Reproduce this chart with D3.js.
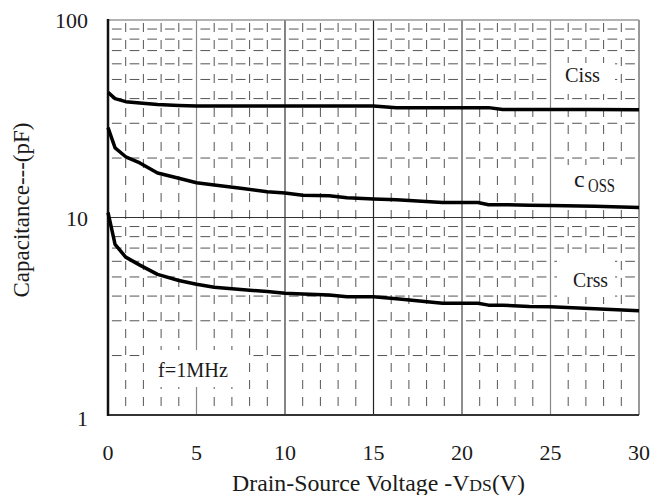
<!DOCTYPE html>
<html><head><meta charset="utf-8">
<script src="https://cdn.jsdelivr.net/npm/d3@7"></script>
<style>body{margin:0;background:#fff}svg{display:block}text{font-family:"Liberation Serif","Times New Roman",serif;fill:#1a1a1a}</style>
</head><body><svg id="c" width="652" height="495"></svg>
<script>
const voltage = [0,0.4,1,1.8,2.8,4,5,6,7.5,9,10,11,12.5,13.5,15,16.3,18.9,20.9,21.5,22.3,23.8,25,27.5,30];
const ciss = [43,40,38.6,38,37.3,36.9,36.7,36.7,36.7,36.7,36.7,36.7,36.7,36.7,36.7,36.0,36.0,36.0,36.0,35.2,35.2,35.2,35.2,35.1];
const coss = [28.5,22.5,20.3,18.9,16.8,15.8,15.0,14.6,14.06,13.5,13.3,12.95,12.9,12.6,12.4,12.3,11.9,11.9,11.6,11.6,11.55,11.5,11.4,11.25];
const crss = [10.6,7.3,6.3,5.74,5.15,4.8,4.59,4.43,4.32,4.22,4.13,4.1,4.05,3.97,3.97,3.88,3.68,3.68,3.6,3.6,3.54,3.53,3.45,3.37];
const xTicks = [0,5,10,15,20,25,30];
const yTicks = [1,10,100];

const svg = d3.select("#c");
const L=108,R=639,T=20,B=415;
const x = d3.scaleLinear([0,30],[L,R]);
const y = d3.scaleLog([1,100],[B,T]);
const unit = x(1)-x(0);

// minor dashed grid
const minorX = d3.range(1,30).filter(v=>v%5!==0);
const minorY = [2,3,4,5,6,7,8,9,20,30,40,50,60,70,80,90];
const g = svg.append("g");
g.selectAll(".hy").data(minorY).join("line")
 .attr("x1",L).attr("x2",R).attr("y1",d=>y(d)).attr("y2",d=>y(d))
 .attr("stroke","#555").attr("stroke-width",1)
 .attr("stroke-dasharray",`${unit*0.55},${unit*0.45}`).attr("stroke-dashoffset",-unit*0.22);
g.selectAll(".vx").data(minorX).join("line")
 .attr("x1",d=>x(d)).attr("x2",d=>x(d)).attr("y1",T).attr("y2",B)
 .attr("stroke","#555").attr("stroke-width",1)
 .attr("stroke-dasharray","9,8").attr("stroke-dashoffset",-3);
// major solid grid
const majorCol = {5:"#888",10:"#333",15:"#222",20:"#444",25:"#888"};
g.selectAll(".mx").data([5,10,15,20,25]).join("line")
 .attr("x1",d=>x(d)).attr("x2",d=>x(d)).attr("y1",T).attr("y2",B)
 .attr("stroke",d=>majorCol[d]).attr("stroke-width",1.2);
g.append("line").attr("x1",L).attr("x2",R).attr("y1",y(10)).attr("y2",y(10)).attr("stroke","#333").attr("stroke-width",1.2);

// frame
svg.append("line").attr("x1",L).attr("x2",R).attr("y1",T).attr("y2",T).attr("stroke","#999").attr("stroke-width",1.5);
svg.append("line").attr("x1",R).attr("x2",R).attr("y1",T).attr("y2",B).attr("stroke","#999").attr("stroke-width",2);
svg.append("line").attr("x1",L-1).attr("x2",R).attr("y1",B).attr("y2",B).attr("stroke","#333").attr("stroke-width",2);
svg.append("line").attr("x1",L).attr("x2",L).attr("y1",T-1).attr("y2",B+1).attr("stroke","#111").attr("stroke-width",2.5);

// label boxes
function box(x0,y0,x1,y1){svg.append("rect").attr("x",x0).attr("y",y0).attr("width",x1-x0).attr("height",y1-y0).attr("fill","#fff");}
box(553,63,615,94);
box(553,165,637,203);
box(557,257,615,297);
box(147,350,248,387);

// curves
const line = d3.line().x((d,i)=>x(voltage[i])).y(d=>y(d));
[ciss,coss,crss].forEach(s=>{
  svg.append("path").datum(s).attr("d",line).attr("fill","none").attr("stroke","#000").attr("stroke-width",3.5).attr("stroke-linejoin","round");
});

// labels
function fit(t,len){return t.attr("textLength",len).attr("lengthAdjust","spacingAndGlyphs");}
fit(svg.append("text").attr("x",565).attr("y",82).attr("font-size",22).text("Ciss"),35);
const ct = svg.append("text").attr("x",574).attr("y",187).attr("font-size",24);
ct.append("tspan").text("c");
fit(ct.append("tspan").attr("x",588).attr("y",192).attr("font-size",18).text("OSS"),27);
fit(svg.append("text").attr("x",573).attr("y",287).attr("font-size",22).text("Crss"),35);
fit(svg.append("text").attr("x",158).attr("y",377).attr("font-size",21).text("f=1MHz"),70);

// axis tick labels
svg.selectAll(".yt").data(yTicks).join("text")
 .attr("x",88).attr("y",d=>y(d)+(d===1?11:8)).attr("text-anchor","end").attr("font-size",22).text(d=>d);
svg.selectAll(".xt").data(xTicks).join("text")
 .attr("x",d=>x(d)).attr("y",460).attr("text-anchor","middle").attr("font-size",22).text(d=>d);

// titles
const xt = fit(svg.append("text").attr("x",232).attr("y",491).attr("font-size",23),293);
xt.append("tspan").text("Drain-Source Voltage -V");
xt.append("tspan").attr("font-size",17).text("DS");
xt.append("tspan").text("(V)");
fit(svg.append("text").attr("transform","translate(29,210) rotate(-90)").attr("text-anchor","middle")
 .attr("font-size",23).text("Capacitance---(pF)"),175);
</script></body></html>
